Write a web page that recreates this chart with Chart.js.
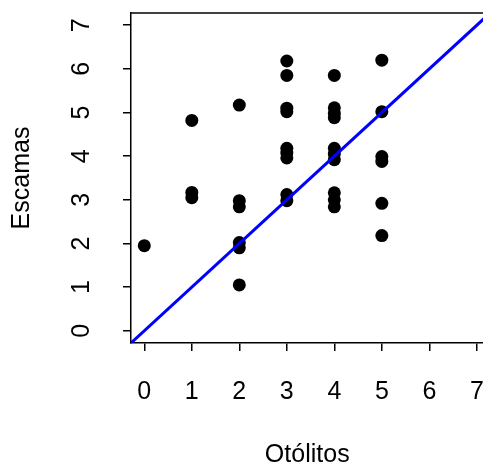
<!DOCTYPE html>
<html>
<head>
<meta charset="utf-8">
<script src="https://cdn.jsdelivr.net/npm/chart.js"></script>
<style>
  html, body { margin: 0; padding: 0; background: #fff; overflow: hidden; }
  #wrap { width: 490px; height: 463px; }
</style>
</head>
<body>
<div id="wrap"><canvas id="grafico"></canvas></div>
<script>
// Datos (Otólitos vs Escamas)
const otolitos = [0,
  1, 1, 1,
  2, 2, 2, 2, 2, 2,
  3, 3, 3, 3, 3, 3, 3, 3, 3,
  4, 4, 4, 4, 4, 4, 4, 4, 4, 4,
  5, 5, 5, 5, 5, 5];
const escamas = [1.95,
  4.82, 3.17, 3.05,
  5.17, 2.98, 2.84, 2.02, 1.90, 1.05,
  6.18, 5.85, 5.10, 5.02, 4.18, 4.07, 3.96, 3.12, 2.98,
  5.85, 5.11, 4.98, 4.88, 4.18, 4.05, 3.92, 3.16, 3.00, 2.84,
  6.20, 5.02, 3.99, 3.88, 2.92, 2.18];
const ticksX = [0, 1, 2, 3, 4, 5, 6, 7];
const ticksY = [0, 1, 2, 3, 4, 5, 6, 7];
// recta y = x (abline(0, 1))
const rectaX = [-0.28, 7.28];

const puntos = otolitos.map((x, i) => ({ x: x, y: escamas[i] }));
const recta = rectaX.map(x => ({ x: x, y: x }));

const fuente = { family: 'Liberation Sans, Arial, sans-serif', size: 25 };

// marco superior (box de R)
const marco = {
  id: 'marco',
  afterDraw(chart) {
    const { ctx, chartArea } = chart;
    ctx.save();
    ctx.strokeStyle = '#000';
    ctx.lineWidth = 1.5;
    ctx.beginPath();
    ctx.moveTo(chartArea.left, chartArea.top);
    ctx.lineTo(chartArea.right + 10, chartArea.top);
    ctx.stroke();
    ctx.restore();
  }
};

new Chart(document.getElementById('grafico'), {
  type: 'scatter',
  data: {
    datasets: [{
      type: 'line',
      data: recta,
      borderColor: '#0000ff',
      borderWidth: 3,
      pointRadius: 0,
      fill: false,
      clip: 0
    }, {
      data: puntos,
      backgroundColor: '#000',
      borderWidth: 0,
      pointRadius: 6.5,
      clip: false
    }]
  },
  options: {
    responsive: true,
    maintainAspectRatio: false,
    animation: false,
    layout: { padding: { top: 13, right: 0, bottom: 0, left: 0 } },
    plugins: {
      legend: { display: false },
      tooltip: { enabled: false }
    },
    scales: {
      x: {
        type: 'linear',
        min: -0.28,
        max: 7.14,
        afterBuildTicks: s => { s.ticks = ticksX.map(v => ({ value: v })); },
        afterFit: s => { s.height = 120; s.paddingLeft = 0; s.paddingRight = 0; },
        grid: { drawOnChartArea: false, tickLength: 8, color: '#000', lineWidth: 1.5 },
        border: { color: '#000', width: 1.5 },
        ticks: { color: '#000', font: fuente, padding: 26, maxRotation: 0 },
        title: {
          display: true, text: 'Otólitos', color: '#000',
          font: { family: fuente.family, size: 25, lineHeight: 1 },
          padding: { top: 0, bottom: -5 }
        }
      },
      y: {
        type: 'linear',
        min: -0.28,
        max: 7.28,
        afterBuildTicks: s => { s.ticks = ticksY.map(v => ({ value: v })); },
        afterFit: s => { s.width = 131; s.paddingTop = 0; s.paddingBottom = 0; },
        grid: { drawOnChartArea: false, tickLength: 8, color: '#000', lineWidth: 1.5 },
        border: { color: '#000', width: 1.5 },
        ticks: { color: '#000', font: fuente, padding: 34, minRotation: 90, maxRotation: 90, crossAlign: 'center' },
        title: {
          display: true, text: 'Escamas', color: '#000',
          font: { family: fuente.family, size: 25, lineHeight: 1 },
          padding: { top: 10, bottom: 0 }
        }
      }
    }
  },
  plugins: [marco]
});
</script>
</body>
</html>
